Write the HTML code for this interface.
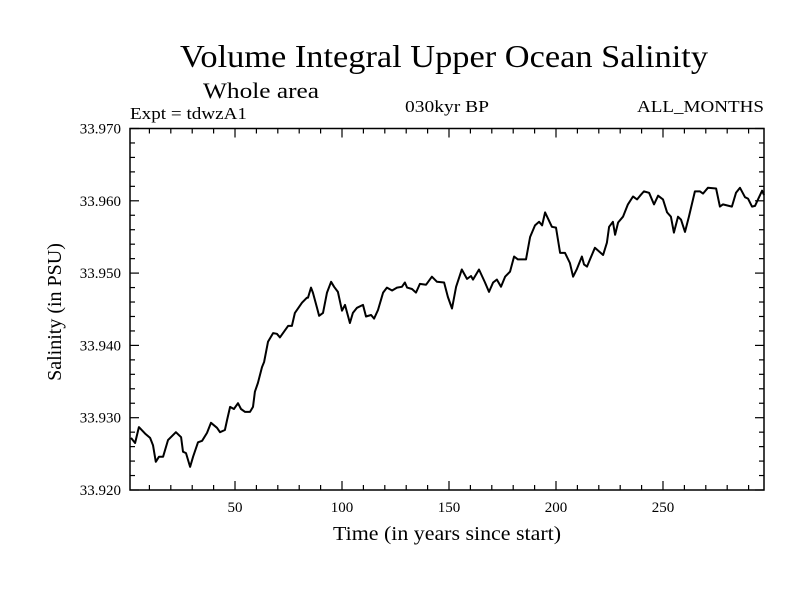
<!DOCTYPE html>
<html><head><meta charset="utf-8"><style>
html,body{margin:0;padding:0;background:#fff;}
svg text{font-family:"Liberation Serif",serif;fill:#000;}
</style></head><body>
<svg id="chart" width="800" height="600" xmlns="http://www.w3.org/2000/svg">
<rect width="800" height="600" fill="#fff"/>
<text x="180" y="67" font-size="32" textLength="528" lengthAdjust="spacingAndGlyphs">Volume Integral Upper Ocean Salinity</text>
<text x="203" y="98" font-size="22" textLength="116" lengthAdjust="spacingAndGlyphs">Whole area</text>
<text x="130" y="119" font-size="17" textLength="117" lengthAdjust="spacingAndGlyphs">Expt = tdwzA1</text>
<text x="405" y="112" font-size="17" textLength="84" lengthAdjust="spacingAndGlyphs">030kyr BP</text>
<text x="637" y="112" font-size="17" textLength="127" lengthAdjust="spacingAndGlyphs">ALL_MONTHS</text>
<text transform="translate(61,312) rotate(-90)" text-anchor="middle" font-size="20">Salinity (in PSU)</text>
<text x="447" y="540" text-anchor="middle" font-size="20" textLength="228" lengthAdjust="spacingAndGlyphs">Time (in years since start)</text>
<g id="axes"></g>
<path id="line" fill="none" stroke="#000" stroke-width="2" stroke-linejoin="round"/>
<rect x="130" y="128.5" width="634" height="361.5" fill="none" stroke="#000" stroke-width="1.5"/>
</svg>
<script>
const years=[1.4,3.3,5.1,8,10.3,11.7,13,14.5,16.4,18.7,22.4,24.8,25.7,27.1,29,30.4,32.7,34.6,36.9,38.8,41.6,43,45.3,46.3,47.7,49.5,51.4,52.8,54.7,57,58.4,59.3,60.7,62.6,63.6,65.4,67.8,69.6,71,72.9,74.8,76.6,78,81.3,83.6,84.1,85.5,86.4,88.3,89.3,91.1,93,94.9,96.3,98.1,100,101.4,103.7,105.1,107,109.8,111.2,113.6,115,116.8,119.2,121,123.4,125.7,128,129.4,130.4,132.7,134.6,136.4,139.3,142,144.4,147.7,149.5,151.4,153.3,156,158.4,160.3,161.2,164,166.8,168.7,170.6,172.4,174.3,176.2,178.5,180.4,182.2,186,187.9,190.2,192.1,193.5,194.9,198.1,200,201.9,204.2,206.5,208,209.8,212.1,213.1,214.5,215.9,218.2,222,223.8,224.8,226.6,227.6,229,231.3,233.6,236,237.9,239.3,241.1,243.5,245.8,247.7,250,251.9,253.7,255.1,257,258.4,260.3,262.1,264.9,267.3,268.7,271,274.8,276.6,278,282.2,284.1,286,288.3,289.7,291.6,293,294.4,296.3,297.2];
const salinity=[33.9272,33.9265,33.9287,33.9278,33.9272,33.9262,33.9239,33.9246,33.9246,33.9269,33.9280,33.9273,33.9253,33.9251,33.9232,33.9246,33.9266,33.9268,33.9279,33.9293,33.9286,33.9280,33.9283,33.9297,33.9315,33.9312,33.9320,33.9312,33.9308,33.9308,33.9315,33.9336,33.9348,33.9370,33.9377,33.9405,33.9417,33.9416,33.9411,33.9419,33.9427,33.9427,33.9445,33.9459,33.9466,33.9466,33.9480,33.9473,33.9452,33.9441,33.9445,33.9473,33.9488,33.9481,33.9474,33.9448,33.9456,33.9431,33.9445,33.9452,33.9456,33.9440,33.9442,33.9437,33.9449,33.9473,33.9480,33.9476,33.9480,33.9481,33.9487,33.9480,33.9478,33.9473,33.9485,33.9484,33.9495,33.9488,33.9487,33.9467,33.9451,33.9481,33.9505,33.9492,33.9496,33.9491,33.9505,33.9487,33.9474,33.9487,33.9491,33.9481,33.9495,33.9502,33.9523,33.9519,33.9519,33.9550,33.9566,33.9571,33.9566,33.9584,33.9564,33.9563,33.9528,33.9528,33.9514,33.9495,33.9506,33.9523,33.9512,33.9509,33.9519,33.9535,33.9525,33.9542,33.9564,33.9571,33.9553,33.9570,33.9578,33.9595,33.9606,33.9602,33.9607,33.9613,33.9611,33.9595,33.9607,33.9602,33.9584,33.9578,33.9556,33.9578,33.9574,33.9557,33.9578,33.9613,33.9613,33.9610,33.9618,33.9617,33.9592,33.9595,33.9592,33.9611,33.9618,33.9605,33.9603,33.9592,33.9593,33.9602,33.9614,33.9608];
const xTickLabels=[50,100,150,200,250];
const yTickLabels=["33.920","33.930","33.940","33.950","33.960","33.970"];
const X0=130,X1=764,Y0=128.5,Y1=490;
const xMin=0.93,xMax=297.2,yMin=33.92,yMax=33.97;
function xs(t){return X0+(t-xMin)/(xMax-xMin)*(X1-X0);}
function ys(v){return Y1-(v-yMin)/(yMax-yMin)*(Y1-Y0);}
const NS="http://www.w3.org/2000/svg";
const g=document.getElementById('axes');
function ln(x1,y1,x2,y2,name){const l=document.createElementNS(NS,'line');
l.setAttribute('x1',x1);l.setAttribute('y1',y1);l.setAttribute('x2',x2);l.setAttribute('y2',y2);
l.setAttribute('stroke','#000');l.setAttribute('stroke-width','1.2');


g.appendChild(l);}
function tx(x,y,s,anchor,name){const t=document.createElementNS(NS,'text');
t.setAttribute('x',x);t.setAttribute('y',y);t.setAttribute('font-size','15');t.setAttribute('text-anchor',anchor);t.textContent=s;


g.appendChild(t);}
for(let t=10;t<xMax;t+=10){const x=xs(t);const major=t%50===0;const L=major?9:5;
ln(x,Y1,x,Y1-L,'x-tick');ln(x,Y0,x,Y0+L,'x-tick');}
xTickLabels.forEach(v=>tx(xs(v),512,String(v),'middle','x-tick-label'));
for(let i=0;i<=25;i++){const v=yMin+i*0.002;const y=ys(v);const major=i%5===0;const L=major?9:5;
ln(X0,y,X0+L,y,'y-tick');ln(X1,y,X1-L,y,'y-tick');}
yTickLabels.forEach(s=>tx(121,ys(parseFloat(s))+5,s,'end','y-tick-label'));
let d='';years.forEach((t,i)=>{d+=(i?'L':'M')+xs(t).toFixed(1)+','+ys(salinity[i]).toFixed(1);});
document.getElementById('line').setAttribute('d',d);
</script>
</body></html>
